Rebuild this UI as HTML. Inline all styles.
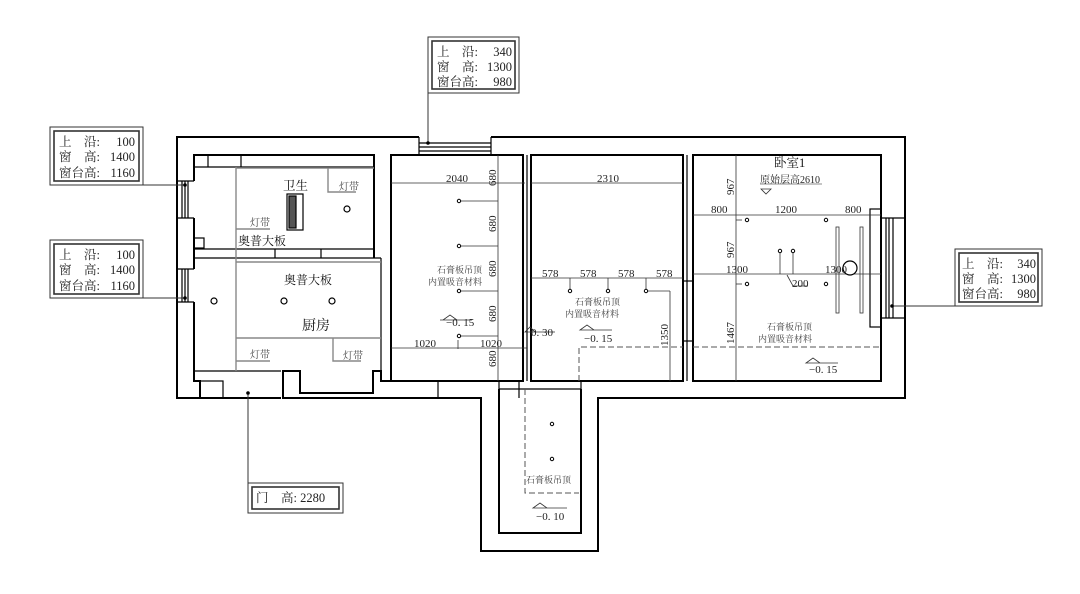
<!DOCTYPE html>
<html><head><meta charset="utf-8"><style>
html,body{margin:0;padding:0;background:#fff;}
svg{display:block;}
text{font-family:"Liberation Serif","Noto Serif CJK SC",serif;fill:#222;}
.t{font-size:11px;}
.s{font-size:9px;fill:#444;}
.b{font-size:12.5px;fill:#111;}
</style></head><body>
<svg width="1080" height="594" viewBox="0 0 1080 594" xmlns="http://www.w3.org/2000/svg">
<g fill="none" stroke="#000" stroke-width="2">
<polyline points="419,137 177,137 177,398 281,398"/>
<polyline points="491,137 905,137 905,398 598,398 598,551 481,551 481,398 283,398 283,371 300,371 300,393 373,393 373,371 381,371 381,381 391,381"/>
<polyline points="194,181 194,155 374,155 374,258"/>
<polyline points="391,258 391,155 523,155"/>
<polyline points="194,218 194,269"/>
<polyline points="194,302 194,381 200,381 200,398"/>
<rect x="391" y="155" width="132" height="226"/>
<rect x="531" y="155" width="152" height="226"/>
<rect x="693" y="155" width="188" height="226"/>
<polyline points="881,209 881,218"/>
<line x1="391" y1="258" x2="391" y2="381"/>
<polyline points="499,389 499,533 581,533 581,389"/>
</g>
<g fill="none" stroke="#000" stroke-width="1.2">
<line x1="177" y1="181" x2="194" y2="181"/><line x1="177" y1="218" x2="194" y2="218"/>
<line x1="182" y1="181" x2="182" y2="218"/><line x1="185" y1="181" x2="185" y2="218"/><line x1="188" y1="181" x2="188" y2="218"/>
<line x1="177" y1="269" x2="194" y2="269"/><line x1="177" y1="302" x2="194" y2="302"/>
<line x1="182" y1="269" x2="182" y2="302"/><line x1="185" y1="269" x2="185" y2="302"/><line x1="188" y1="269" x2="188" y2="302"/>
<line x1="419" y1="137" x2="419" y2="155"/><line x1="491" y1="137" x2="491" y2="155"/>
<line x1="419" y1="143" x2="491" y2="143"/><line x1="419" y1="147" x2="491" y2="147"/><line x1="419" y1="151" x2="491" y2="151"/>
<line x1="881" y1="218" x2="905" y2="218"/><line x1="881" y1="318" x2="905" y2="318"/>
<line x1="886" y1="218" x2="886" y2="318"/><line x1="889" y1="218" x2="889" y2="318"/><line x1="893" y1="218" x2="893" y2="318"/>
<rect x="870" y="209" width="11" height="118"/>
<line x1="194" y1="167" x2="374" y2="167"/>
<line x1="208" y1="155" x2="208" y2="167"/><line x1="241" y1="155" x2="241" y2="167"/>
<rect x="194" y="238" width="10" height="10"/>
<line x1="194" y1="249" x2="374" y2="249"/>
<line x1="194" y1="258" x2="381" y2="258"/>
<line x1="275" y1="249" x2="275" y2="258"/><line x1="321" y1="249" x2="321" y2="258"/>
<line x1="381" y1="258" x2="381" y2="371"/>
<line x1="194" y1="371" x2="281" y2="371"/>
<rect x="200" y="381" width="23" height="17"/>
<line x1="523" y1="155" x2="523" y2="381"/><line x1="527" y1="155" x2="527" y2="381"/>
<line x1="683" y1="155" x2="683" y2="381"/><line x1="687" y1="155" x2="687" y2="381"/>
<line x1="683" y1="281" x2="693" y2="281"/><line x1="683" y1="341" x2="693" y2="341"/>
<line x1="499" y1="381" x2="499" y2="389"/><line x1="581" y1="381" x2="581" y2="389"/>
<line x1="499" y1="389" x2="581" y2="389"/>
<line x1="438" y1="381" x2="438" y2="398" /><line x1="519" y1="381" x2="519" y2="398"/>
</g>
<g fill="none" stroke="#888" stroke-width="1.4">
<line x1="236" y1="167" x2="236" y2="371"/>
<line x1="236" y1="168" x2="374" y2="168"/>
<line x1="236" y1="262" x2="381" y2="262"/>
<line x1="236" y1="338" x2="381" y2="338"/>
<polyline points="328,168 328,192 356,192"/>
<line x1="236" y1="229" x2="270" y2="229"/>
<line x1="236" y1="361" x2="270" y2="361"/>
<polyline points="333,338 333,361 361,361"/>
</g>
<g fill="none" stroke="#333" stroke-width="0.8">
<line x1="391" y1="183" x2="525" y2="183"/>
<line x1="531" y1="183" x2="683" y2="183"/>
<line x1="498" y1="155" x2="498" y2="381"/>
<line x1="391" y1="348" x2="527" y2="348"/>
<line x1="531" y1="278" x2="683" y2="278"/>
<line x1="693" y1="215" x2="881" y2="215"/>
<line x1="693" y1="274" x2="881" y2="274"/>
<line x1="736" y1="155" x2="736" y2="381"/>
<line x1="670" y1="291" x2="670" y2="381"/>
<line x1="458" y1="201" x2="498" y2="201"/><line x1="458" y1="246" x2="498" y2="246"/>
<line x1="458" y1="291" x2="498" y2="291"/><line x1="458" y1="336" x2="498" y2="336"/>
<line x1="458" y1="340" x2="458" y2="349"/>
<line x1="570" y1="278" x2="570" y2="291"/><line x1="608" y1="278" x2="608" y2="291"/><line x1="646" y1="278" x2="646" y2="291"/>
<line x1="646" y1="291" x2="670" y2="291"/>
<line x1="780" y1="251" x2="780" y2="274"/><line x1="793" y1="251" x2="793" y2="274"/>
<polyline points="787,275 793,286 808,286"/>
<line x1="736" y1="220" x2="742" y2="220"/><line x1="736" y1="284" x2="742" y2="284"/>
<rect x="836" y="227" width="3" height="86"/><rect x="860" y="227" width="3" height="86"/>
<line x1="760" y1="184" x2="822" y2="184" stroke="#666"/>
</g>
<g fill="none" stroke="#555" stroke-width="1" stroke-dasharray="6,3">
<polyline points="579,381 579,347 683,347"/>
<line x1="693" y1="347" x2="881" y2="347"/>
<polyline points="525,389 525,493 579,493"/>
</g>
<g fill="#fff" stroke="#000" stroke-width="1.2">
<rect x="287" y="194" width="16" height="36"/>
<rect x="289" y="196" width="7" height="32" fill="#555"/>
<circle cx="347" cy="209" r="3"/><circle cx="214" cy="301" r="3"/><circle cx="284" cy="301" r="3"/><circle cx="332" cy="301" r="3"/>
<circle cx="850" cy="268" r="7"/>
</g>
<g fill="#fff" stroke="#000" stroke-width="1">
<circle cx="459" cy="201" r="1.7"/><circle cx="459" cy="246" r="1.7"/><circle cx="459" cy="291" r="1.7"/><circle cx="459" cy="336" r="1.7"/>
<circle cx="570" cy="291" r="1.7"/><circle cx="608" cy="291" r="1.7"/><circle cx="646" cy="291" r="1.7"/>
<circle cx="747" cy="220" r="1.7"/><circle cx="826" cy="220" r="1.7"/><circle cx="747" cy="284" r="1.7"/><circle cx="826" cy="284" r="1.7"/>
<circle cx="780" cy="251" r="1.7"/><circle cx="793" cy="251" r="1.7"/>
<circle cx="552" cy="424" r="1.7"/><circle cx="552" cy="459" r="1.7"/>
</g>
<g fill="none" stroke="#333" stroke-width="0.8">
<path d="M443,320 L450,315 L457,320 Z M440,320 L472,320"/>
<path d="M525,332 L530,327 L535,332 Z M525,332 L555,332"/>
<path d="M580,330 L587,325 L594,330 Z M580,330 L612,330"/>
<path d="M806,363 L813,358 L820,363 Z M806,363 L838,363"/>
<path d="M533,508 L540,503 L547,508 Z M533,508 L567,508"/>
<path d="M761,189 L766,194 L771,189 Z"/>
</g>
<g class="t">
<text x="446" y="182">2040</text><text x="597" y="182">2310</text>
<text x="414" y="347">1020</text><text x="480" y="347">1020</text>
<text x="542" y="277">578</text><text x="580" y="277">578</text><text x="618" y="277">578</text><text x="656" y="277">578</text>
<text x="711" y="213">800</text><text x="775" y="213">1200</text><text x="845" y="213">800</text>
<text x="726" y="273">1300</text><text x="825" y="273">1300</text>
<text x="792" y="287">200</text>
<text x="446" y="326">−0. 15</text><text x="531" y="336">0. 30</text><text x="584" y="342">−0. 15</text>
<text x="809" y="373">−0. 15</text><text x="536" y="520">−0. 10</text>
<g style="font-size:11px">
<text transform="translate(496,186) rotate(-90)">680</text>
<text transform="translate(496,232) rotate(-90)">680</text>
<text transform="translate(496,277) rotate(-90)">680</text>
<text transform="translate(496,322) rotate(-90)">680</text>
<text transform="translate(496,367) rotate(-90)">680</text>
<text transform="translate(668,346) rotate(-90)">1350</text>
<text transform="translate(734,195) rotate(-90)">967</text>
<text transform="translate(734,258) rotate(-90)">967</text>
<text transform="translate(734,344) rotate(-90)">1467</text>
</g>
</g>
<text x="774" y="167" class="b">卧室1</text>
<text x="760" y="183" style="font-size:10px">原始层高2610</text>
<text x="283" y="190" class="b">卫生</text>
<text x="339" y="190" class="s" style="font-size:10px">灯带</text>
<text x="250" y="226" class="s" style="font-size:10px">灯带</text>
<text x="238" y="245" class="b" style="font-size:12px">奥普大板</text>
<text x="284" y="284" class="b" style="font-size:12px">奥普大板</text>
<text x="302" y="330" class="b" style="font-size:14px">厨房</text>
<text x="250" y="358" class="s" style="font-size:10px">灯带</text>
<text x="343" y="359" class="s" style="font-size:10px">灯带</text>
<text x="437" y="273" class="s">石膏板吊顶</text><text x="428" y="285" class="s">内置吸音材料</text>
<text x="575" y="305" class="s">石膏板吊顶</text><text x="565" y="317" class="s">内置吸音材料</text>
<text x="767" y="330" class="s">石膏板吊顶</text><text x="758" y="342" class="s">内置吸音材料</text>
<text x="526" y="483" class="s">石膏板吊顶</text>
<g fill="none" stroke="#333" stroke-width="1">
<rect x="428" y="37" width="91" height="56"/><rect x="432" y="41" width="83" height="48" stroke-width="1.6"/>
<rect x="50" y="127" width="93" height="58"/><rect x="54" y="131" width="85" height="50" stroke-width="1.6"/>
<rect x="50" y="240" width="93" height="58"/><rect x="54" y="244" width="85" height="50" stroke-width="1.6"/>
<rect x="955" y="249" width="87" height="57"/><rect x="959" y="253" width="79" height="49" stroke-width="1.6"/>
<rect x="248" y="483" width="95" height="30"/><rect x="252" y="487" width="87" height="22" stroke-width="1.6"/>
<polyline points="428,90 428,143"/>
<line x1="50" y1="185" x2="185" y2="185"/>
<line x1="50" y1="298" x2="185" y2="298"/>
<line x1="893" y1="306" x2="955" y2="306"/>
<line x1="248" y1="393" x2="248" y2="483"/>
</g>
<g fill="#000"><circle cx="428" cy="143" r="1.8"/><circle cx="185" cy="185" r="1.8"/><circle cx="185" cy="298" r="1.8"/><circle cx="892" cy="306" r="1.8"/><circle cx="248" cy="393" r="1.8"/></g>
<g class="b" style="font-size:12.5px">
<text x="437" y="56">上　沿:</text><text x="512" y="56" text-anchor="end">340</text>
<text x="437" y="71">窗　高:</text><text x="512" y="71" text-anchor="end">1300</text>
<text x="437" y="86">窗台高:</text><text x="512" y="86" text-anchor="end">980</text>
<text x="59" y="146">上　沿:</text><text x="135" y="146" text-anchor="end">100</text>
<text x="59" y="161">窗　高:</text><text x="135" y="161" text-anchor="end">1400</text>
<text x="59" y="177">窗台高:</text><text x="135" y="177" text-anchor="end">1160</text>
<text x="59" y="259">上　沿:</text><text x="135" y="259" text-anchor="end">100</text>
<text x="59" y="274">窗　高:</text><text x="135" y="274" text-anchor="end">1400</text>
<text x="59" y="290">窗台高:</text><text x="135" y="290" text-anchor="end">1160</text>
<text x="962" y="268">上　沿:</text><text x="1036" y="268" text-anchor="end">340</text>
<text x="962" y="283">窗　高:</text><text x="1036" y="283" text-anchor="end">1300</text>
<text x="962" y="298">窗台高:</text><text x="1036" y="298" text-anchor="end">980</text>
<text x="256" y="502">门　高: 2280</text>
</g>
</svg>
</body></html>
